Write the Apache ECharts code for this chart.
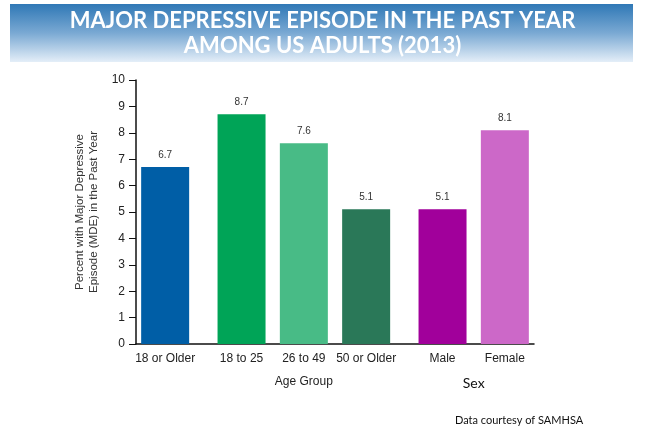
<!DOCTYPE html>
<html>
<head>
<meta charset="utf-8">
<script src="https://cdn.jsdelivr.net/npm/echarts@6/dist/echarts.min.js"></script>
<style>
html,body{margin:0;padding:0;background:#fff;}
#chart{width:645px;height:439px;}
</style>
</head>
<body>
<div id="chart"></div>
<script>
// ---- data ----
var categories = ["18 or Older", "18 to 25", "26 to 49", "50 or Older", "Male", "Female"];
var values = [6.7, 8.7, 7.6, 5.1, 5.1, 8.1];
var groupOf = [0, 1, 1, 1, 2, 2];
var groupNames = ["", "Age Group", "Sex"];
var colors = ["#005ea6", "#00a457", "#48bb86", "#2a7858", "#a1009b", "#cc68c8"];
var yTicks = [0, 1, 2, 3, 4, 5, 6, 7, 8, 9, 10];
var titleLines = ["MAJOR DEPRESSIVE EPISODE IN THE PAST YEAR", "AMONG US ADULTS (2013)"];
var yName = "Percent with Major Depressive\nEpisode (MDE) in the Past Year";
var credit = "Data courtesy of SAMHSA";

// ---- layout (group spacing) ----
var groupGap = 0.226;
var pos = categories.map(function (c, i) { return i + groupGap * groupOf[i]; });
var groupPos = [];
groupNames.forEach(function (g, gi) {
  if (!g) return;
  var s = 0, n = 0;
  pos.forEach(function (p, i) { if (groupOf[i] === gi) { s += p; n++; } });
  groupPos.push({ v: s / n, name: g });
});
var xMin = pos[0] - 0.468;
var xMax = pos[pos.length - 1] + 0.468;

function nearest(list, v, key) {
  var best = null, bd = 1e9;
  list.forEach(function (p, i) { var d = Math.abs((key ? p[key] : p) - v); if (d < bd) { bd = d; best = i; } });
  return bd < 0.01 ? best : null;
}

var chart = echarts.init(document.getElementById('chart'), null, { renderer: 'canvas' });
chart.setOption({
  animation: false,
  backgroundColor: '#ffffff',
  graphic: [
    {
      type: 'rect', left: 10, top: 4, silent: true,
      shape: { width: 623, height: 58 },
      style: {
        fill: new echarts.graphic.LinearGradient(0, 0, 0, 1, [
          { offset: 0, color: '#2f78b6' },
          { offset: 0.5, color: '#7aa9d3' },
          { offset: 1, color: '#e4eef8' }
        ])
      }
    },
    {
      type: 'text', left: 'center', top: 10, silent: true,
      style: { text: titleLines[0], fill: '#ffffff', font: 'bold 22px Lato', textAlign: 'center' }
    },
    {
      type: 'text', left: 'center', top: 35, silent: true,
      style: { text: titleLines[1], fill: '#ffffff', font: 'bold 22px Lato', textAlign: 'center' }
    },
    {
      type: 'text', left: 455, top: 415, silent: true,
      style: { text: credit, fill: '#111111', font: '11px Lato' }
    }
  ],
  grid: { left: 136, right: 111, top: 80, bottom: 95, containLabel: false },
  xAxis: [
    {
      type: 'value', min: xMin, max: xMax,
      axisLine: { show: true, onZero: false, lineStyle: { color: '#111', width: 1.5 } },
      axisTick: { show: false },
      splitLine: { show: false },
      axisLabel: {
        customValues: pos, margin: 9, fontSize: 12, color: '#222', fontFamily: 'Liberation Sans',
        formatter: function (v) { var i = nearest(pos, v); return i === null ? '' : categories[i]; }
      }
    },
    {
      type: 'value', min: xMin, max: xMax, position: 'bottom', offset: 24,
      axisLine: { show: false }, axisTick: { show: false }, splitLine: { show: false },
      axisLabel: {
        customValues: groupPos.map(function (g) { return g.v; }), margin: 8,
        formatter: function (v) {
          var i = nearest(groupPos, v, 'v');
          if (i === null) return '';
          var n = groupPos[i].name;
          return n === 'Sex' ? '{s|' + n + '}' : '{a|' + n + '}';
        },
        rich: {
          a: { fontSize: 12, color: '#222', fontFamily: 'Liberation Sans' },
          s: { fontSize: 14, color: '#111', fontFamily: 'Lato' }
        }
      }
    }
  ],
  yAxis: {
    type: 'value', min: 0, max: 10, interval: 1,
    name: yName, nameLocation: 'middle', nameGap: 28, nameRotate: 90,
    nameTextStyle: { fontSize: 11.5, color: '#333', fontFamily: 'Liberation Sans', lineHeight: 14 },
    axisLine: { show: true, onZero: false, lineStyle: { color: '#111', width: 1.5 } },
    axisTick: { show: true, length: 7, lineStyle: { color: '#111', width: 1 } },
    splitLine: { show: false },
    axisLabel: {
      margin: 11, fontSize: 12, color: '#222', fontFamily: 'Liberation Sans',
      formatter: function (v) { return yTicks.indexOf(v) >= 0 ? String(v) : ''; }
    }
  },
  series: [{
    type: 'bar',
    barWidth: 48,
    data: values.map(function (v, i) {
      return { value: [pos[i], v], itemStyle: { color: colors[i] } };
    }),
    label: {
      show: true, position: 'top', distance: 7, fontSize: 10, color: '#333', fontFamily: 'Liberation Sans',
      formatter: function (p) { return p.value[1].toFixed(1); }
    }
  }]
});
</script>
</body>
</html>
